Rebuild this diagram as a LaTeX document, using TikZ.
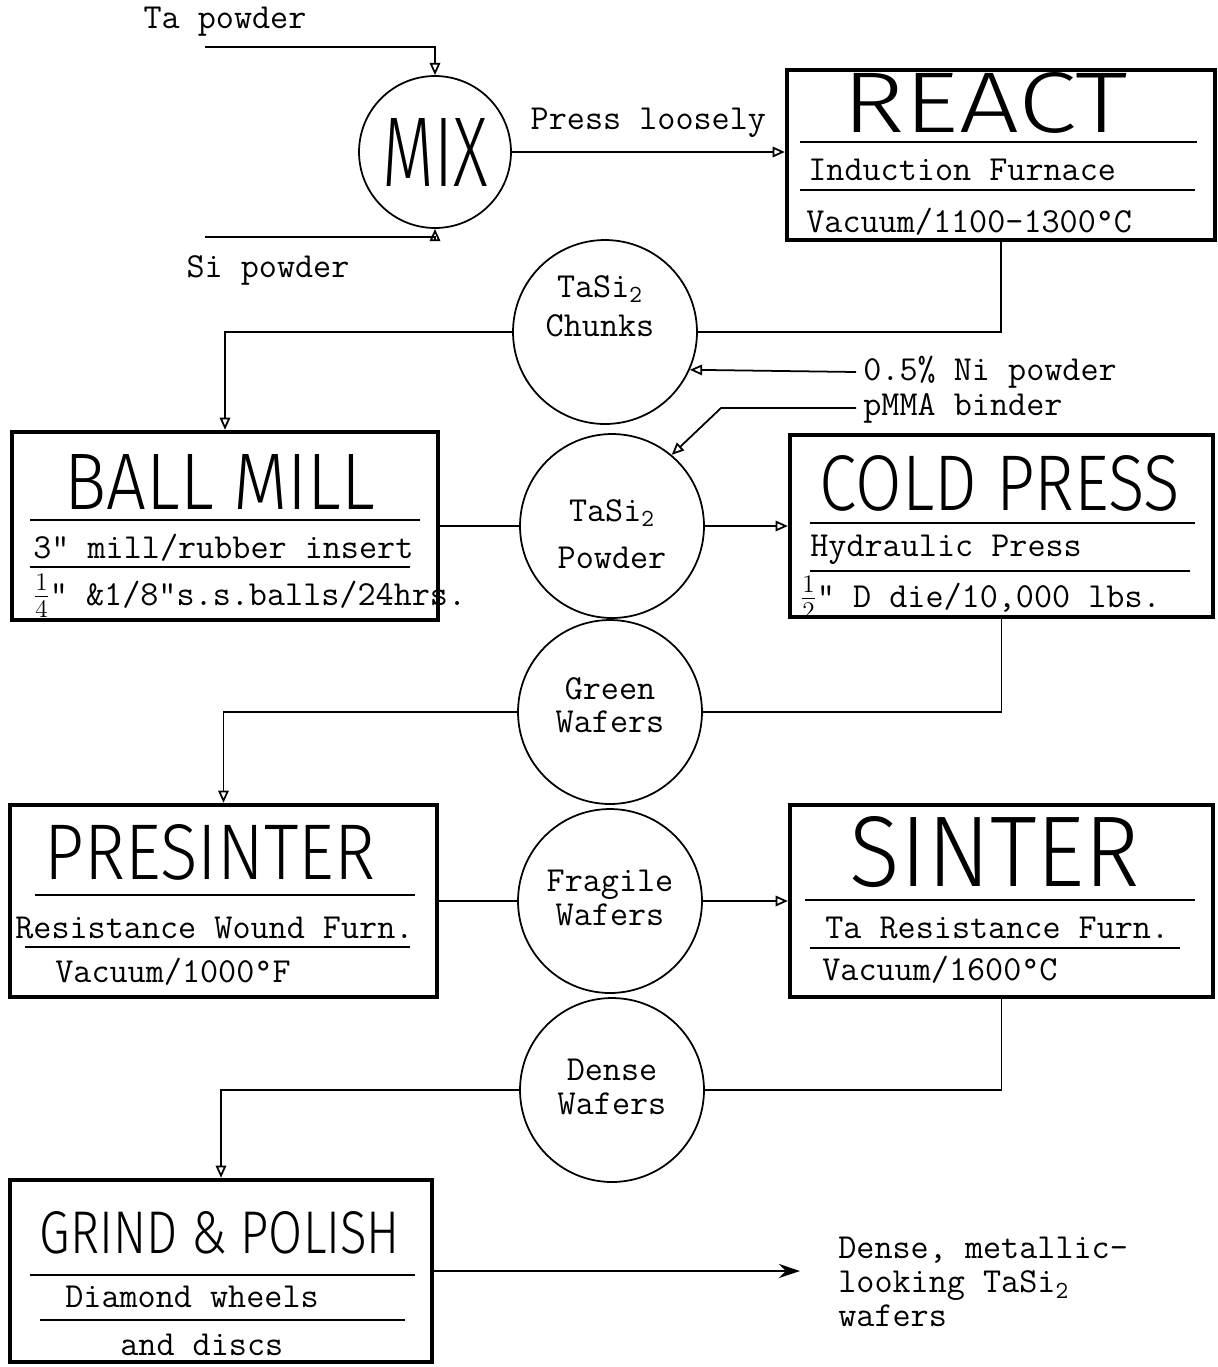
\documentclass[tikz,border=0pt]{standalone}
\usepackage{fontspec}
\usepackage{graphicx}
\usetikzlibrary{positioning}
\usetikzlibrary{arrows.meta}

\newfontfamily\handfont{Fira Sans Light}
\newlength\pxu
\setlength\pxu{0.02cm}
\newcommand\handtitle[3]{\resizebox{#1\pxu}{#2\pxu}{\handfont #3}}

\begin{document}
\begin{tikzpicture}[x=0.02cm,y=-0.02cm,
    procbox/.style={draw,line width=2.5pt,rectangle,inner sep=0pt},
    stage/.style={draw,line width=1pt,circle,inner sep=0pt,minimum size=3.68cm},
    txt/.style={font=\fontsize{20}{22}\selectfont\ttfamily,inner sep=0pt},
    ctxt/.style={txt,align=center,font=\fontsize{20}{19}\selectfont\ttfamily},
    flow/.style={line width=1pt},
    feed/.style={-{Triangle[open,length=7pt,width=6pt]}}]
   \useasboundingbox (0,0) rectangle (1218,1367);

   % mixing and reaction
   \node (ta) [txt] at (225,22) {Ta powder};
   \node (si) [txt] at (268,270) {Si powder};
   \coordinate (tain) at (205,47);
   \coordinate (siin) at (205,237);
   \node (mix) [stage, minimum size=3.04cm] at (435,152) {\handtitle{105}{68}{MIX}};
   \draw[flow,feed] (tain) -| (mix.north);
   \draw[flow,feed] (siin) -| (mix.south);

   \node (react) [procbox, minimum width=8.56cm, minimum height=3.4cm] at (1001,155) {};
   \node (reactT) [inner sep=0pt] at (985,103) {\handtitle{285}{60}{REACT}};
   \draw[flow] (800,142) -- (1197,142);
   \node (react1) [txt, anchor=west] at (808,170) {Induction Furnace};
   \draw[flow] (800,190) -- (1195,190);
   \node (react2) [txt, anchor=west] at (806,222) {Vacuum/1100-1300°C};
   \draw[flow,feed] (mix.east) -- (react.west |- mix.east)
      node[txt, midway, above=8pt] {Press loosely};

   % chunks and additions
   \node (chunks) [stage] at (605,332) {};
   \node (chunksT) [ctxt] at (600,306) {TaSi\textsubscript{2}\\[3pt]Chunks};
   \node (ni) [txt, anchor=west, inner sep=4pt] at (856,372) {0.5\% Ni powder};
   \node (pmma) [txt, anchor=west, inner sep=4pt] at (856,408) {pMMA binder};
   \draw[flow] (react.south) |- (chunks.east);
   \draw[flow,feed] (ni.west) -- (chunks.-24);

   % ball mill and cold press
   \node (ballmill) [procbox, minimum width=8.52cm, minimum height=3.76cm] at (225,526) {};
   \node (ballmillT) [inner sep=0pt] at (220,482) {\handtitle{310}{55}{BALL MILL}};
   \draw[flow] (30,520) -- (420,520);
   \node (ballmill1) [txt, anchor=west] at (33,548) {3" mill/rubber insert};
   \draw[flow] (30,567) -- (410,567);
   \node (ballmill2) [txt, anchor=west] at (33,596) {$\frac{1}{4}$" \&1/8"s.s.balls/24hrs.};
   \draw[flow,feed] (chunks.west) -| (ballmill.north);

   \node (powder) [stage] at (612,526) {};
   \node (powderT) [txt, align=center] at (612,534) {TaSi\textsubscript{2}\\[5pt]Powder};
   \draw[flow,feed] (pmma.west) -- ++(-135,0) -- (powder.50);
   \draw[flow] (ballmill.east) -- (powder.west);

   \node (coldpress) [procbox, minimum width=8.46cm, minimum height=3.64cm] at (1001.5,526) {};
   \node (coldpressT) [inner sep=0pt] at (1000,483) {\handtitle{360}{55}{COLD PRESS}};
   \draw[flow] (810,523) -- (1195,523);
   \node (coldpress1) [txt, anchor=west] at (810,550) {Hydraulic Press};
   \draw[flow] (810,571) -- (1190,571);
   \node (coldpress2) [txt, anchor=west] at (800,598) {$\frac{1}{2}$" D die/10,000 lbs.};
   \draw[flow,feed] (powder.east) -- (coldpress.west);

   % presinter and sinter
   \node (green) [stage] at (610,712) {};
   \node (greenT) [ctxt] at (610,705) {Green\\Wafers};
   \draw[flow] (coldpress.south) |- (green.east);

   \node (presinter) [procbox, minimum width=8.54cm, minimum height=3.84cm] at (223.5,901) {};
   \node (presinterT) [inner sep=0pt] at (210,852) {\handtitle{330}{55}{PRESINTER}};
   \draw[flow] (35,895) -- (415,895);
   \node (presinter1) [txt, anchor=west] at (15,928) {Resistance Wound Furn.};
   \draw[flow] (25,947) -- (410,947);
   \node (presinter2) [txt, anchor=west] at (55,972) {Vacuum/1000°F};
   \draw[flow,feed] (green.west) -| (presinter.north);

   \node (fragile) [stage] at (610,901) {};
   \node (fragileT) [ctxt] at (610,898) {Fragile\\Wafers};
   \draw[flow] (presinter.east) -- (fragile.west);

   \node (sinter) [procbox, minimum width=8.46cm, minimum height=3.84cm] at (1001.5,901) {};
   \node (sinterT) [inner sep=0pt] at (995,852) {\handtitle{290}{70}{SINTER}};
   \draw[flow] (805,900) -- (1195,900);
   \node (sinter1) [txt, anchor=west] at (825,928) {Ta Resistance Furn.};
   \draw[flow] (810,948) -- (1180,948);
   \node (sinter2) [txt, anchor=west] at (822,970) {Vacuum/1600°C};
   \draw[flow,feed] (fragile.east) -- (sinter.west);

   % finishing
   \node (dense) [stage] at (612,1090) {};
   \node (denseT) [ctxt] at (612,1087) {Dense\\Wafers};
   \draw[flow] (sinter.south) |- (dense.east);

   \node (grind) [procbox, minimum width=8.44cm, minimum height=3.64cm] at (221,1271) {};
   \node (grindT) [inner sep=0pt] at (220,1233) {\handtitle{360}{42}{GRIND \& POLISH}};
   \draw[flow] (30,1275) -- (415,1275);
   \node (grind1) [txt, anchor=west] at (65,1297) {Diamond wheels};
   \draw[flow] (40,1320) -- (405,1320);
   \node (grind2) [txt, anchor=west] at (120,1345) {and discs};
   \draw[flow,feed] (dense.west) -| (grind.north);

   \node (product) [txt, anchor=west, align=left, font=\fontsize{20}{19.5}\selectfont\ttfamily] at (838,1282)
      {Dense, metallic-\\looking TaSi\textsubscript{2}\\wafers};
   \coordinate (outend) at (800,1271);
   \draw[flow,-{Stealth[length=12pt,width=8pt]}] (grind.east) -- (outend);
\end{tikzpicture}
\end{document}
